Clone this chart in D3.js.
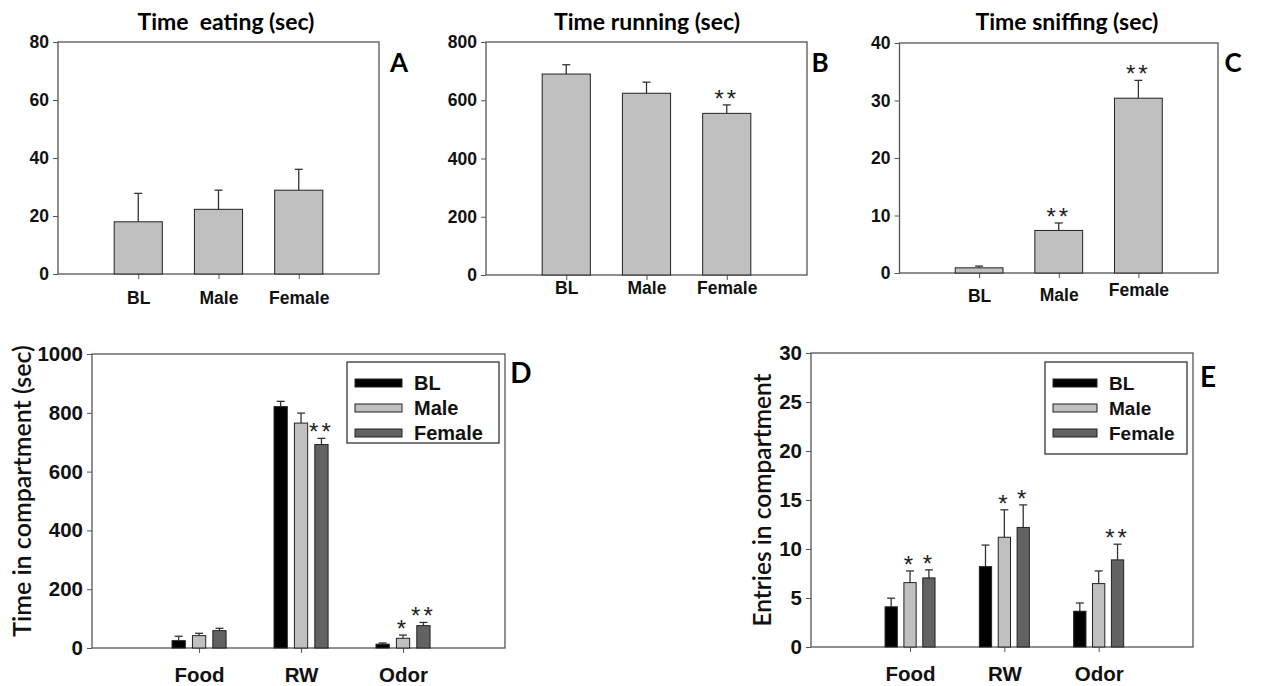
<!DOCTYPE html>
<html>
<head>
<meta charset="utf-8">
<script src="https://cdn.jsdelivr.net/npm/d3@7"></script>
<style>
  body { margin: 0; background: #fff; }
  .tick text { font-family: "Liberation Sans", Arial, sans-serif; font-weight: bold; fill: #111; }
</style>
</head>
<body>
<div id="fig"></div>
<script>
// ---- data ----
var groups = ["BL", "Male", "Female"]
var compartments = ["Food", "RW", "Odor"]

var eatingMean = [18.0, 22.3, 28.9]
var eatingSem = [9.8, 6.6, 7.2]
var eatingSig = ["", "", ""]

var runningMean = [690, 624, 555]
var runningSem = [32, 38, 29]
var runningSig = ["", "", "**"]

var sniffMean = [0.9, 7.4, 30.4]
var sniffSem = [0.3, 1.3, 3.1]
var sniffSig = ["", "**", "**"]

var timeBL = [25, 821, 13]
var timeMale = [42, 765, 33]
var timeFemale = [59, 692, 76]
var timeBLSem = [15, 18, 4]
var timeMaleSem = [8, 34, 11]
var timeFemaleSem = [8, 21, 11]
var timeSig = [["", "", ""], ["", "", "*"], ["", "**", "**"]]

var entriesBL = [4.1, 8.2, 3.65]
var entriesMale = [6.57, 11.2, 6.47]
var entriesFemale = [7.05, 12.2, 8.89]
var entriesBLSem = [0.88, 2.2, 0.84]
var entriesMaleSem = [1.19, 2.8, 1.29]
var entriesFemaleSem = [0.82, 2.3, 1.6]
var entriesSig = [["", "", ""], ["*", "*", ""], ["*", "*", "**"]]

var ticksA = [0, 20, 40, 60, 80]
var ticksB = [0, 200, 400, 600, 800]
var ticksC = [0, 10, 20, 30, 40]
var ticksD = [0, 200, 400, 600, 800, 1000]
var ticksE = [0, 5, 10, 15, 20, 25, 30]

var groupColors = ["#000000", "#c0c0c0", "#626262"]
var axisColor = "#555"
var titleFont = "Lato, 'Open Sans', sans-serif"
var tickFont = "'Liberation Sans', Arial, sans-serif"

const svg = d3.select("#fig").append("svg")
    .attr("width", 1268)
    .attr("height", 686)

function drawFrame(g, box, x, y, yTicks, cats, catPos, fs, labelDy) {
    // y axis with outward ticks
    var yAxis = g.append("g")
        .attr("transform", "translate(" + box.left + ",0)")
        .call(d3.axisLeft(y).tickValues(yTicks).tickSize(5).tickPadding(4).tickFormat(d3.format("d")))
    yAxis.selectAll("text").style("font-size", fs + "px")
    // x axis: ticks at categories, labels placed by hand offsets
    var xAxis = g.append("g")
        .attr("transform", "translate(0," + box.bottom + ")")
        .call(d3.axisBottom(x).tickValues(catPos).tickSize(5).tickFormat(function(d, i) { return cats[i] }))
    xAxis.selectAll("text").style("font-size", fs + "px")
        .attr("y", function(d, i) { return labelDy[i] })
        .attr("dy", "0.35em")
    g.selectAll(".domain").remove()
    g.selectAll(".tick line").attr("stroke", axisColor)
    // box around plot area
    g.append("rect")
        .attr("x", box.left).attr("y", box.top)
        .attr("width", box.right - box.left).attr("height", box.bottom - box.top)
        .attr("fill", "none").attr("stroke", axisColor).attr("stroke-width", 1.3)
}

function drawBar(g, x, y, cx, w, mean, sem, fill, sig, sigSize) {
    var top = y(mean)
    var errTop = y(mean + sem)
    g.append("line")
        .attr("x1", cx).attr("x2", cx).attr("y1", top).attr("y2", errTop)
        .attr("stroke", "#333").attr("stroke-width", 1.3)
    g.append("line")
        .attr("x1", cx - 4).attr("x2", cx + 4).attr("y1", errTop).attr("y2", errTop)
        .attr("stroke", "#333").attr("stroke-width", 1.3)
    g.append("rect")
        .attr("x", cx - w / 2).attr("y", top)
        .attr("width", w).attr("height", y(0) - top)
        .attr("fill", fill).attr("stroke", "#222").attr("stroke-width", 1)
    if (sig) {
        g.append("text")
            .attr("x", cx).attr("y", errTop + 2)
            .attr("text-anchor", "middle")
            .style("font-family", tickFont)
            .style("font-size", sigSize + "px")
            .style("letter-spacing", "3px")
            .style("fill", "#222")
            .text(sig)
    }
}

function singlePanel(opt) {
    var box = opt.box
    var g = svg.append("g")
    var x = d3.scaleLinear().domain([0, 4]).range([box.left, box.right])
    var y = d3.scaleLinear().domain([0, opt.ticks[opt.ticks.length - 1]]).range([box.bottom, box.top])
    drawFrame(g, box, x, y, opt.ticks, groups, [1, 2, 3], 17.5, opt.labelDy)
    groups.forEach(function(grp, i) {
        drawBar(g, x, y, x(i + 1), x(0.6) - x(0), opt.mean[i], opt.sem[i], "#c0c0c0", opt.sig[i], 24)
    })
    g.append("text")
        .attr("x", opt.titleX).attr("y", 30)
        .attr("text-anchor", "middle")
        .style("font-family", titleFont).style("font-weight", "bold").style("font-size", "23px")
        .style("white-space", "pre").attr("xml:space", "preserve")
        .text(opt.title)
    g.append("text")
        .attr("x", opt.letterX).attr("y", 72)
        .attr("text-anchor", "middle")
        .style("font-family", titleFont).style("font-weight", "bold").style("font-size", "26px")
        .text(opt.letter)
}

function groupedPanel(opt) {
    var box = opt.box
    var g = svg.append("g")
    var x = d3.scaleLinear().domain([-0.05, 4]).range([box.left, box.right])
    var y = d3.scaleLinear().domain([0, opt.ticks[opt.ticks.length - 1]]).range([box.bottom, box.top])
    drawFrame(g, box, x, y, opt.ticks, compartments, [1, 2, 3], 20.5, [27, 27, 27])
    var bw = x(0.13) - x(0)
    opt.means.forEach(function(series, s) {
        series.forEach(function(v, i) {
            var cx = x(i + 1 + (s - 1) * 0.2)
            drawBar(g, x, y, cx, bw, v, opt.sems[s][i], groupColors[s], opt.sig[s][i], 24)
        })
    })
    // legend
    var lg = g.append("g").attr("transform", "translate(" + opt.legend.x + "," + opt.legend.y + ")")
    lg.append("rect")
        .attr("width", opt.legend.w).attr("height", opt.legend.h)
        .attr("fill", "#fff").attr("stroke", "#333").attr("stroke-width", 1.3)
    groups.forEach(function(grp, s) {
        var row = lg.append("g").attr("transform", "translate(8," + (21 + s * 25) + ")")
        row.append("rect")
            .attr("x", 0).attr("y", -4).attr("width", opt.legend.sw).attr("height", 8)
            .attr("fill", groupColors[s]).attr("stroke", "#222").attr("stroke-width", 1)
        row.append("text")
            .attr("x", opt.legend.sw + 12).attr("y", 0).attr("dy", "0.35em")
            .style("font-family", tickFont).style("font-weight", "bold").style("font-size", opt.legend.fs + "px")
            .style("fill", "#111")
            .text(grp)
    })
    g.append("text")
        .attr("transform", "translate(" + opt.ylabX + "," + opt.ylabY + ") rotate(-90)")
        .attr("text-anchor", "middle").attr("dy", "0.35em")
        .style("font-family", titleFont).style("font-weight", 600).style("font-size", opt.ylabSize + "px").style("fill", "#111")
        .text(opt.ylabel)
    g.append("text")
        .attr("x", opt.letterX).attr("y", opt.letterY)
        .attr("text-anchor", "middle").attr("dy", "0.35em")
        .style("font-family", titleFont).style("font-weight", "bold").style("font-size", "28px")
        .text(opt.letter)
}

singlePanel({ box: { left: 58, right: 379, top: 42, bottom: 274 }, ticks: ticksA,
    mean: eatingMean, sem: eatingSem, sig: eatingSig, labelDy: [24, 24, 24],
    title: "Time  eating (sec)", titleX: 226, letter: "A", letterX: 399 })
singlePanel({ box: { left: 486, right: 807, top: 42, bottom: 275 }, ticks: ticksB,
    mean: runningMean, sem: runningSem, sig: runningSig, labelDy: [13, 13, 13],
    title: "Time running (sec)", titleX: 647, letter: "B", letterX: 820 })
singlePanel({ box: { left: 899.5, right: 1218, top: 43, bottom: 273 }, ticks: ticksC,
    mean: sniffMean, sem: sniffSem, sig: sniffSig, labelDy: [23, 22, 17],
    title: "Time sniffing (sec)", titleX: 1067, letter: "C", letterX: 1233 })

groupedPanel({ box: { left: 92, right: 505, top: 354, bottom: 648 }, ticks: ticksD,
    means: [timeBL, timeMale, timeFemale], sems: [timeBLSem, timeMaleSem, timeFemaleSem], sig: timeSig,
    legend: { x: 347, y: 362, w: 152, h: 81, sw: 47, fs: 20 },
    ylabel: "Time in compartment (sec)", ylabX: 22, ylabY: 491, ylabSize: 25,
    letter: "D", letterX: 521, letterY: 373 })
groupedPanel({ box: { left: 811, right: 1193, top: 353, bottom: 647 }, ticks: ticksE,
    means: [entriesBL, entriesMale, entriesFemale], sems: [entriesBLSem, entriesMaleSem, entriesFemaleSem], sig: entriesSig,
    legend: { x: 1045, y: 362, w: 142, h: 92, sw: 44, fs: 19 },
    ylabel: "Entries in compartment", ylabX: 762, ylabY: 500, ylabSize: 24.5,
    letter: "E", letterX: 1208, letterY: 377 })
</script>
</body>
</html>
